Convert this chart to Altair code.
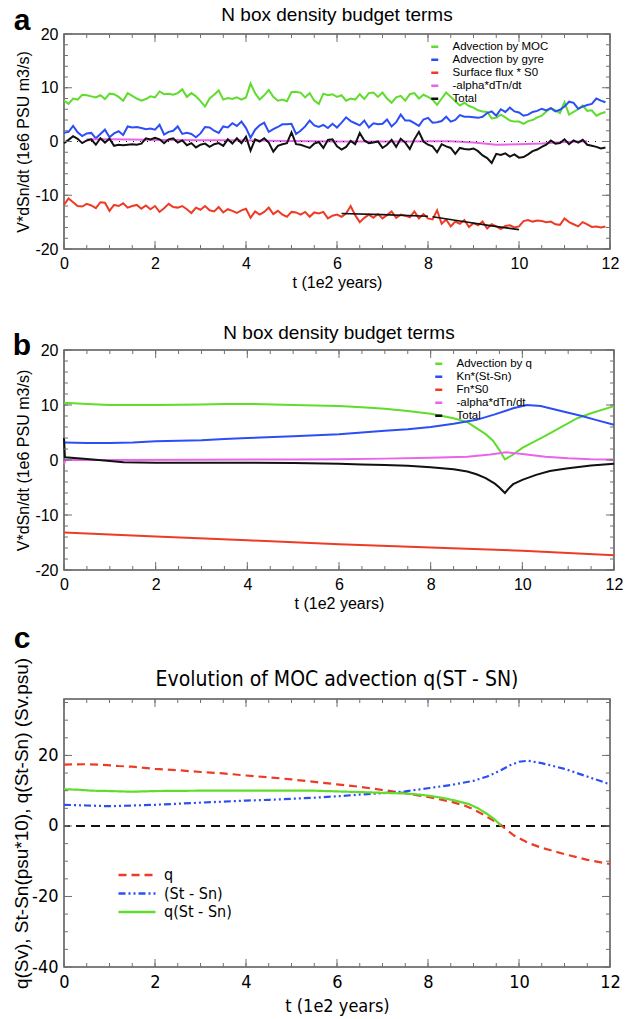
import altair as alt
import numpy as np
import pandas as pd

FONT = "Liberation Sans"
NARROW = "Liberation Sans Narrow, DejaVu Sans Condensed, sans-serif"
TICK_C = "#707070"
FRAME_C = "#555555"

GREEN = "#5fdc2c"
BLUE = "#2c4ef5"
RED = "#ee3b26"
MAGENTA = "#e964ea"
BLACK = "#111111"

# ---------------- panel a: noisy run, one sample every 0.1 (1e2 years) ----------------
t_noisy = np.round(np.arange(0, 12, 0.1), 1)
moc_a = [7.6, 7.0, 8.0, 7.8, 8.7, 8.6, 8.4, 8.2, 8.6, 7.9,
         8.9, 8.8, 8.3, 7.6, 9.0, 8.5, 8.0, 7.6, 7.9, 8.4,
         8.2, 9.3, 8.8, 8.9, 8.7, 9.0, 9.7, 8.3, 9.0, 8.4,
         7.5, 6.5, 8.0, 8.7, 9.5, 7.8, 8.1, 7.9, 8.2, 7.8,
         8.2, 10.8, 9.0, 7.8, 8.6, 9.6, 8.3, 7.6, 7.8, 7.5,
         9.2, 9.2, 9.1, 8.2, 9.0, 7.6, 7.0, 8.9, 8.6, 8.8,
         8.3, 8.6, 7.6, 8.0, 7.8, 8.8, 7.9, 9.0, 9.1, 8.3,
         9.1, 8.0, 7.2, 8.2, 8.5, 7.6, 8.8, 9.0, 8.0, 8.7,
         8.3, 7.8, 6.8, 8.0, 9.1, 8.3, 7.5, 6.7, 7.2, 6.6,
         6.3, 5.8, 5.6, 5.5, 4.3, 4.4, 5.0, 4.5, 3.9, 3.7,
         3.7, 3.3, 3.8, 4.0, 4.5, 4.8, 5.6, 6.2, 5.8, 5.3,
         7.3, 5.0, 5.5, 6.0, 6.7, 5.7, 5.8, 4.8, 5.2, 5.5]
gyre_a = [1.6, 1.8, 2.9, 1.7, 1.0, 1.5, 1.6, 0.6, 1.4, 2.2,
          0.8, 1.5, 1.9, 1.2, 2.8, 2.6, 2.7, 2.5, 2.3, 2.4,
          2.2, 3.1, 1.3, 1.8, 2.0, 2.8, 1.4, 1.6, 1.4, 0.8,
          1.5, 2.7, 2.6, 2.0, 1.6, 2.8, 2.6, 3.4, 2.9, 3.7,
          2.5, 0.7, 2.2, 3.0, 3.5, 1.8, 2.3, 2.7, 3.2, 3.2,
          3.3, 1.4, 2.0, 2.8, 3.9, 3.0, 2.7, 3.1, 2.5, 3.3,
          2.6, 3.5, 4.5, 3.8, 3.4, 3.0, 3.9, 2.6, 3.4, 3.2,
          3.3, 4.1, 2.8, 3.6, 5.0, 3.9, 3.9, 3.4, 2.9, 4.1,
          4.4, 3.5, 3.6, 3.8, 4.6, 3.7, 4.0, 4.9, 4.6, 4.6,
          4.5, 4.4, 4.6, 5.3, 5.6, 4.8, 6.0, 5.5, 6.3, 5.6,
          5.4, 4.8, 5.0, 5.5, 5.7, 6.1, 5.8, 6.2, 5.6, 5.9,
          6.5, 7.4, 7.2, 6.1, 6.5, 6.8, 7.0, 8.0, 7.6, 7.3]
flux_a = [-11.8, -10.6, -11.3, -12.0, -12.1, -11.6, -11.9, -12.4, -11.3, -11.4,
          -12.9, -11.8, -12.0, -11.5, -12.3, -12.0, -11.8, -12.5, -11.9, -12.6,
          -12.0, -13.1, -12.4, -11.6, -12.2, -12.3, -12.0, -12.6, -13.3, -12.3,
          -12.7, -12.0, -12.8, -13.0, -12.2, -13.2, -12.6, -12.9, -13.3, -12.8,
          -12.5, -14.2, -13.0, -13.6, -13.1, -12.3, -13.5, -12.9, -13.6, -14.0,
          -13.1, -13.2, -13.6, -13.1, -14.0, -13.2, -13.4, -13.1, -14.3, -13.8,
          -13.6, -14.0, -13.4, -12.0, -13.7, -15.0, -14.2, -13.6, -14.2, -13.5,
          -14.3, -13.7, -13.0, -14.2, -13.6, -13.8, -14.1, -13.0, -14.3, -13.5,
          -14.3, -14.5, -12.8, -15.3, -14.5, -15.8, -14.9, -15.3, -14.6, -15.9,
          -15.2, -15.6, -14.9, -16.2, -15.4, -15.8, -16.3, -15.7, -15.6, -16.0,
          -15.8, -14.8, -14.6, -14.9, -14.7, -14.8, -15.0, -14.9, -15.4, -15.5,
          -14.3, -15.0, -15.4, -15.8, -15.0, -15.4, -15.9, -15.8, -16.0, -15.8]
total_a = [-0.3, 0.3, 1.0, 0.5, -0.3, 0.2, 0.4, -0.6, 0.6, -0.2,
           0.5, -0.8, -0.6, -0.7, -0.6, -0.5, -0.6, -0.4, 0.6, 0.4,
           0.7, 0.4, -0.3, 0.4, 0.6, -0.2, 0.2, -0.7, -0.3, -1.1,
           -0.6, -0.4, -1.0, -0.5, -0.3, -0.8, 0.4, -0.4, 0.6, -0.3,
           0.9, -1.7, 0.4, 0.0, 0.6, -0.2, -1.9, -0.8, -0.5, -0.3,
           1.7, -0.5, -0.6, -0.9, -1.2, -0.4, -0.1, -1.2, 0.3, 0.4,
           -0.9, -1.5, -1.0, 0.1, -0.5, 1.6, 0.2, -0.3, -0.2, 0.0,
           -1.2, -0.6, 0.3, -1.0, 0.5, -0.2, -1.4, 0.4, 1.8, 0.0,
           -0.6, -0.9, -2.0, -0.5, -0.9, -1.2, -2.3, -1.2, -1.4, -1.5,
           -1.3, -1.8, -2.6, -3.1, -4.0, -2.3, -2.5, -2.2, -2.8, -2.4,
           -3.0, -2.9, -2.4, -1.8, -1.5, -1.0, -0.6, 0.2, -0.4, -0.3,
           0.4, -0.5, 0.2, -0.2, 0.3, -0.6, -0.8, -1.0, -1.3, -1.1]
t_alpha_a = [0.5, 1.0, 1.5, 2.0, 2.5, 3.0, 3.5, 4.0, 4.5, 5.0, 5.5, 6.0,
             6.5, 7.0, 7.5, 8.0, 8.5, 9.0, 9.5, 10.0, 10.5, 11.0, 11.5]
alpha_a = [0.4, 0.4, 0.35, 0.3, 0.3, 0.25, 0.25, 0.2, 0.15, 0.1, 0.05, 0.0,
           0.0, 0.0, 0.0, 0.05, 0.05, -0.2, -0.6, -0.5, -0.35, -0.1, 0.05]
# two fitted segments drawn over the surface-flux term
fit1_t = [6.1, 7.0, 8.0]
fit1_v = [-13.4, -13.6, -13.9]
fit2_t = [8.1, 8.7, 9.4, 10.0]
fit2_v = [-14.0, -14.8, -15.7, -16.4]
labels_a = ["Advection by MOC", "Advection by gyre", "Surface flux * S0",
            "-alpha*dTn/dt", "Total"]

# ---------------- panel b: smooth model run ----------------
t_adv_b = [0, 0.5, 1, 2, 3, 3.5, 4, 5, 6, 6.5, 7, 7.5, 8, 8.5, 8.8, 9.0, 9.2,
           9.36, 9.5, 9.62, 9.8, 10.0, 10.5, 11.2, 11.5, 12.0]
adv_b = [10.4, 10.2, 10.0, 10.0, 10.1, 10.2, 10.2, 10.0, 9.8, 9.6, 9.3, 8.9,
         8.4, 7.6, 6.9, 5.8, 4.7, 3.5, 1.8, 0.1, 1.0, 2.2, 4.4, 7.6, 8.5, 9.8]
t_kn_b = [0, 0.5, 1, 1.5, 2, 3, 3.5, 4, 5, 5.5, 6, 6.5, 7, 7.5, 8, 8.5, 9,
          9.4, 9.8, 10.1, 10.4, 10.8, 11.3, 11.6, 12]
kn_b = [3.2, 3.1, 3.1, 3.2, 3.4, 3.6, 3.8, 4.0, 4.3, 4.5, 4.7, 5.0, 5.3, 5.6,
        6.0, 6.6, 7.3, 8.3, 9.4, 10.0, 9.8, 9.0, 8.0, 7.3, 6.4]
t_fn_b = [0, 2, 4, 6, 8, 10, 12]
fn_b = [-13.2, -13.9, -14.6, -15.3, -15.9, -16.5, -17.3]
t_alpha_b = [0, 0.03, 1, 3, 5, 6, 7, 8, 8.8, 9.3, 9.65, 10.0, 10.5, 11.0, 11.5, 12]
alpha_b = [-0.8, 0.0, 0.0, 0.05, 0.1, 0.15, 0.25, 0.4, 0.6, 1.0, 1.4, 1.1, 0.6,
           0.3, 0.15, 0.1]
t_total_b = [0, 0.02, 0.5, 1.0, 1.3, 2, 3, 4, 5, 6, 6.5, 7, 7.5, 8, 8.5, 8.8,
             9.0, 9.2, 9.4, 9.5, 9.62, 9.7, 9.8, 10.0, 10.3, 10.6, 11.0, 11.5, 12]
total_b = [4.0, 0.5, 0.2, -0.2, -0.4, -0.5, -0.5, -0.5, -0.55, -0.7, -0.8, -0.9,
           -1.05, -1.3, -1.7, -2.1, -2.6, -3.3, -4.3, -5.0, -6.0, -5.2, -4.4,
           -3.6, -2.7, -2.0, -1.5, -1.0, -0.7]
labels_b = ["Advection by q", "Kn*(St-Sn)", "Fn*S0", "-alpha*dTn/dt", "Total"]

# ---------------- panel c: MOC advection ----------------
t_q_c = [0, 0.5, 0.8, 1.2, 1.5, 2, 2.5, 3, 3.5, 4, 4.5, 5, 5.5, 6, 6.5, 7, 7.5,
         8, 8.5, 8.8, 9.0, 9.2, 9.4, 9.6, 9.7, 9.9, 10.2, 10.5, 11, 11.5, 12]
q_c = [17.4, 17.5, 17.4, 17.0, 16.8, 16.2, 15.8, 15.3, 14.9, 14.3, 13.8, 13.2,
       12.5, 11.8, 11.1, 10.2, 9.3, 8.2, 6.9, 5.8, 4.7, 3.3, 1.8, 0.3, -0.8,
       -2.8, -4.8, -6.2, -8.0, -9.6, -10.8]
t_ds_c = [0, 0.5, 1, 1.5, 2, 2.5, 3, 3.5, 4, 4.5, 5, 5.5, 6, 6.5, 7, 7.5, 8,
          8.5, 9, 9.3, 9.6, 9.8, 10, 10.2, 10.5, 11, 11.5, 12]
ds_c = [6.0, 5.8, 5.6, 5.8, 6.0, 6.3, 6.6, 6.9, 7.2, 7.4, 7.7, 8.0, 8.4, 8.9,
        9.3, 9.8, 10.7, 11.6, 12.8, 14.0, 15.8, 17.2, 18.2, 18.5, 17.8, 16.2,
        14.0, 11.8]
t_qds_c = [0, 0.3, 0.6, 1, 1.5, 2, 3, 4, 5, 5.5, 6, 6.5, 7, 7.5, 7.8, 8.0, 8.3,
           8.6, 8.9, 9.1, 9.3, 9.45, 9.55, 9.6]
qds_c = [10.4, 10.3, 10.0, 9.9, 9.7, 9.9, 10.0, 10.0, 10.0, 10.0, 9.8, 9.6,
         9.4, 9.2, 8.9, 8.6, 8.0, 7.2, 6.2, 5.0, 3.4, 2.0, 0.8, 0.0]
labels_c = ["q", "(St - Sn)", "q(St - Sn)"]

X_VALUES = [0, 2, 4, 6, 8, 10, 12]
X_MINOR = list(np.arange(0, 12.01, 0.5))
X_TITLE = "t (1e2 years)"
Y_TITLE_AB = "V*dSn/dt (1e6 PSU m3/s)"
Y_TITLE_C = "q(Sv), St-Sn(psu*10), q(St-Sn) (Sv.psu)"


def long_frame(series):
    rows = []
    for lab, ts, vs in series:
        rows += [{"series": lab, "t": float(t), "v": float(v)} for t, v in zip(ts, vs)]
    return pd.DataFrame(rows)


class Axes:
    """Shared scales and axes of one panel, reused by every layer."""

    def __init__(self, y_dom, x_axis, y_axis, y_title):
        self.xs = alt.Scale(domain=[0, 12], nice=False, zero=False)
        self.ys = alt.Scale(domain=y_dom, nice=False, zero=False)
        self.x_axis = x_axis
        self.y_axis = y_axis
        self.y_title = y_title

    def x(self, field="t"):
        return alt.X(f"{field}:Q", scale=self.xs, axis=self.x_axis, title=X_TITLE)

    def y(self, field="v"):
        return alt.Y(f"{field}:Q", scale=self.ys, axis=self.y_axis, title=self.y_title)


def frame_ticks(ax, w, h, x_minor, x_major, y_minor, y_major):
    """Inward ticks on all four sides of the plot frame."""
    out = []
    for vals, L in ((x_minor, 4), (x_major, 8)):
        base = alt.Chart(pd.DataFrame({"t": vals})).mark_rule(color=TICK_C, strokeWidth=1)
        out.append(base.encode(x=ax.x(), y=alt.value(h), y2=alt.value(h - L)))
        out.append(base.encode(x=ax.x(), y=alt.value(0), y2=alt.value(L)))
    for vals, L in ((y_minor, 4), (y_major, 8)):
        base = alt.Chart(pd.DataFrame({"v": vals})).mark_rule(color=TICK_C, strokeWidth=1)
        out.append(base.encode(y=ax.y(), x=alt.value(0), x2=alt.value(L)))
        out.append(base.encode(y=ax.y(), x=alt.value(w), x2=alt.value(w - L)))
    return out


def note(text, x, y, size, font, weight="normal", align="center"):
    return alt.Chart(pd.DataFrame({"s": [text]})).mark_text(
        font=font, fontSize=size, fontWeight=weight, align=align,
        baseline="alphabetic", color="black"
    ).encode(x=alt.value(x), y=alt.value(y), text="s:N")


def budget_axes(h):
    x_axis = alt.Axis(values=X_VALUES, labelFont=FONT, labelFontSize=16,
                      titleFont=FONT, titleFontSize=16, labelPadding=6,
                      titlePadding=3, tickSize=0, labelFlush=False,
                      labelExpr="'' + datum.value")
    y_axis = alt.Axis(values=[-20, -10, 0, 10, 20], labelFont=FONT,
                      labelFontSize=16, titleFont=FONT, titleFontSize=16,
                      labelPadding=6, tickSize=0, titleX=-33, titleY=h / 2,
                      titleAlign="center", labelFlush=False,
                      minExtent=30, maxExtent=30, labelExpr="'' + datum.value")
    return Axes([-20, 20], x_axis, y_axis, Y_TITLE_AB)


def budget_panel(df, labels, colors, w, h, title, letter, title_y, letter_y,
                 legend_x, legend_y, extra=()):
    ax = budget_axes(h)
    lines = alt.Chart(df).mark_line(strokeWidth=2).encode(
        x=ax.x(), y=ax.y(),
        color=alt.Color(
            "series:N",
            scale=alt.Scale(domain=labels, range=colors),
            title=None,
            legend=alt.Legend(orient="none", legendX=legend_x, legendY=legend_y,
                              symbolType="stroke", symbolSize=49,
                              symbolStrokeWidth=2.5, labelFont=FONT,
                              labelFontSize=11.5, labelOffset=12, rowPadding=0,
                              padding=0, labelLimit=0),
        ),
    )
    layers = [lines]
    for build in extra:
        layers.append(build(ax))
    layers += frame_ticks(ax, w, h, X_MINOR, X_VALUES,
                          list(range(-20, 21, 2)), [-20, -10, 0, 10, 20])
    layers.append(note(title, w / 2, title_y, 19, FONT))
    layers.append(note(letter, -42, letter_y, 30, FONT, weight="bold"))
    return alt.layer(*layers).properties(width=w, height=h)


# ---- panel a ----
df_a = long_frame([
    (labels_a[0], t_noisy, moc_a),
    (labels_a[1], t_noisy, gyre_a),
    (labels_a[2], t_noisy, flux_a),
    (labels_a[3], t_alpha_a, alpha_a),
    (labels_a[4], t_noisy, total_a),
])
df_fit = pd.DataFrame({
    "t": fit1_t + fit2_t,
    "v": fit1_v + fit2_v,
    "seg": ["first"] * len(fit1_t) + ["second"] * len(fit2_t),
})


def fit_layer(ax):
    return alt.Chart(df_fit).mark_line(color=BLACK, strokeWidth=1.6).encode(
        x=ax.x(), y=ax.y(), detail="seg:N")


def zero_dots(ax):
    return alt.Chart(pd.DataFrame({"v": [0]})).mark_rule(
        color=BLACK, strokeDash=[1, 6], strokeWidth=1.2
    ).encode(y=ax.y())


W_A, H_A = 546, 215
panel_a = budget_panel(df_a, labels_a, [GREEN, BLUE, RED, MAGENTA, BLACK],
                       W_A, H_A, "N box density budget terms", "a", -13, -4,
                       365, 7, extra=(zero_dots, fit_layer))

# ---- panel b ----
df_b = long_frame([
    (labels_b[0], t_adv_b, adv_b),
    (labels_b[1], t_kn_b, kn_b),
    (labels_b[2], t_fn_b, fn_b),
    (labels_b[3], t_alpha_b, alpha_b),
    (labels_b[4], t_total_b, total_b),
])
W_B, H_B = 550, 220
panel_b = budget_panel(df_b, labels_b, [GREEN, BLUE, RED, MAGENTA, BLACK],
                       W_B, H_B, "N box density budget terms", "b", -11, 5,
                       369, 8)

# ---- panel c ----
df_c = long_frame([
    (labels_c[0], t_q_c, q_c),
    (labels_c[1], t_ds_c, ds_c),
    (labels_c[2], t_qds_c, qds_c),
])
W_C, H_C = 546, 268
ax_c = Axes(
    [-40, 36],
    alt.Axis(values=X_VALUES, labelFont=NARROW, labelFontSize=18,
             titleFont=NARROW, titleFontSize=18, labelPadding=6,
             titlePadding=6, tickSize=0, labelFlush=False,
             labelExpr="'' + datum.value"),
    alt.Axis(values=[-40, -20, 0, 20], labelFont=NARROW, labelFontSize=18,
             titleFont=FONT, titleFontSize=19, labelPadding=6, tickSize=0,
             titleX=-33, titleY=124, titleAlign="center", labelFlush=False,
             minExtent=30, maxExtent=30, labelExpr="'' + datum.value"),
    Y_TITLE_C,
)
# long horizontal line sample for the legend entries
legend_c = alt.Legend(orient="none", legendX=65, legendY=168,
                      symbolType="M-3,0H3", symbolSize=152, symbolStrokeWidth=2.5,
                      labelFont=NARROW, labelFontSize=16, labelOffset=19,
                      rowPadding=2.5, padding=0, labelLimit=0)
lines_c = alt.Chart(df_c).mark_line(strokeWidth=2.2).encode(
    x=ax_c.x(), y=ax_c.y(),
    color=alt.Color("series:N", scale=alt.Scale(domain=labels_c, range=[RED, BLUE, GREEN]),
                    title=None, legend=legend_c),
    strokeDash=alt.StrokeDash("series:N",
                              scale=alt.Scale(domain=labels_c,
                                              range=[[8, 5], [7, 3, 2, 3, 2, 3], [1, 0]]),
                              title=None, legend=legend_c),
)
zero_c = alt.Chart(pd.DataFrame({"v": [0]})).mark_rule(
    color=BLACK, strokeDash=[9, 6], strokeWidth=2
).encode(y=ax_c.y())
panel_c = alt.layer(
    zero_c, lines_c,
    *frame_ticks(ax_c, W_C, H_C, X_MINOR, X_VALUES,
                 list(range(-40, 36, 5)), [-40, -20, 0, 20]),
    note("Evolution of MOC advection q(ST - SN)", W_C / 2, -13, 21, NARROW),
    note("c", -42, -51, 30, FONT, weight="bold"),
).properties(width=W_C, height=H_C)

indep = dict(x="independent", y="independent", color="independent",
             strokeDash="independent")
top_pair = alt.vconcat(panel_a, panel_b, spacing=32).resolve_scale(**indep)
chart = alt.vconcat(top_pair, panel_c, spacing=11).resolve_scale(
    **indep
).properties(
    padding={"left": 11, "top": 5, "right": 0, "bottom": 0},
).configure_view(
    stroke=FRAME_C, strokeWidth=1.5
).configure_axis(
    grid=False, ticks=False, domain=False, labelColor="black",
    titleColor="black", titleFontWeight="normal"
)

chart.save("out.html", embed_options={"renderer": "svg", "actions": False})
